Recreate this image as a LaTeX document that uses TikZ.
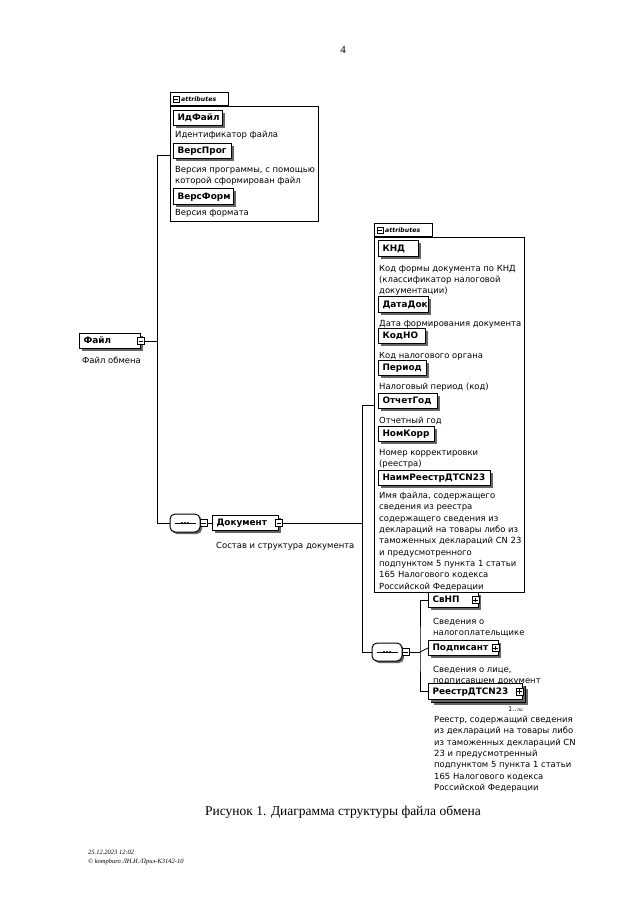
\documentclass[tikz,border=0pt]{standalone}
\usepackage{fontspec}
\setmainfont{Liberation Serif}
\setsansfont{DejaVu Sans}
\usetikzlibrary{shadows}
\newcommand{\dfont}{\sffamily\fontsize{8.45}{11.3}\selectfont}
\newcommand{\efont}{\sffamily\bfseries\fontsize{8.9}{10}\selectfont}
\begin{document}
\begin{tikzpicture}[x=1pt,y=-1pt,
  el/.style={draw, line width=1pt, fill=white, inner xsep=4pt, inner ysep=3.5pt,
    text height=6.6pt, text depth=1.6pt, anchor=west, align=left, font=\efont,
    drop shadow={shadow xshift=2.5pt, shadow yshift=-2.5pt, fill=black!60, opacity=1}},
  desc/.style={anchor=north west, inner sep=0pt, align=left, font=\dfont},
  sym/.style={draw, line width=0.6pt, fill=white, minimum size=7pt, inner sep=0pt},
  symm/.style={sym, path picture={\draw[line width=0.6pt] ([xshift=1.3pt]path picture bounding box.west) -- ([xshift=-1.3pt]path picture bounding box.east);}},
  symp/.style={sym, path picture={\draw[line width=0.6pt] ([xshift=1.3pt]path picture bounding box.west) -- ([xshift=-1.3pt]path picture bounding box.east);
     \draw[line width=0.6pt] ([yshift=-1.3pt]path picture bounding box.north) -- ([yshift=1.3pt]path picture bounding box.south);}},
  abox/.style={draw, line width=0.8pt, fill=white, anchor=north west, inner sep=0pt},
  tab/.style={draw, line width=0.8pt, fill=white, anchor=south west, inner sep=0pt, minimum height=13pt},
  tabtext/.style={anchor=west, inner sep=0pt, font=\sffamily\bfseries\itshape\fontsize{6.2}{7}\selectfont},
  seqb/.style={draw, line width=1pt, fill=white, rounded corners=5pt, minimum width=30pt, minimum height=18pt, inner sep=0pt,
    drop shadow={shadow xshift=2pt, shadow yshift=-2pt, fill=black!60, opacity=1}},
  conn/.style={line width=0.8pt}
]
\useasboundingbox (0,0) rectangle (640,905);
\fill[white] (0,0) rectangle (640,905);

% page number
\node[font=\fontsize{11}{13}\selectfont] (pnum) at (343,50) {4};

% ---------- attributes box 1 ----------
\node[abox, minimum width=148pt, minimum height=115pt] (attr1) at (170,106) {};
\node[tab, minimum width=58pt] (tab1) at (170,106) {};
\node[symm, minimum size=6pt] (tab1s) at (176,99.5) {};
\node[tabtext] (tab1t) at (181,99.5) {attributes};

\node[el, text width=41pt] (idf) at (173,118) {ИдФайл};
\node[desc] (idfd) at (175,131) {Идентификатор файла};
\node[el, text width=50pt] (vprog) at (173,151) {ВерсПрог};
\node[desc] (vprogd) at (175,166) {Версия программы, с помощью\\которой сформирован файл};
\node[el, text width=52pt] (vform) at (173,196.5) {ВерсФорм};
\node[desc] (vformd) at (175,209) {Версия формата};

% ---------- root element ----------
\node[el, text width=53pt] (fajl) at (79,341) {Файл};
\node[symm] (fajls) at (fajl.east) {};
\node[desc] (fajld) at (82,357) {Файл обмена};

% connectors of root
\coordinate (v1) at (157,155);
\node[seqb] (seq1) at (185,523) {};
\node[symm] (seq1s) at ([xshift=3pt]seq1.east) {};
\draw[line width=0.8pt] ([xshift=5pt]seq1.west) -- ([xshift=-5pt]seq1.east);
\foreach \d in {-3,0,3} \fill ([xshift=\d pt]seq1.center) circle (1.1pt);
\draw[conn] (attr1.west |- v1) -- (v1) -- (v1 |- seq1.west) -- (seq1.west);
\draw[conn] (fajls.east) -- (fajls.east -| v1);

% ---------- Документ ----------
\node[el, text width=58pt] (doc) at (212,523) {Документ};
\node[symm] (docs) at (doc.east) {};
\node[desc] (docd) at (216,542) {Состав и структура документа};
\draw[conn] (seq1s.east) -- (doc.west);

% ---------- attributes box 2 ----------
\node[abox, minimum width=150pt, minimum height=355pt] (attr2) at (374,237) {};
\node[tab, minimum width=58pt] (tab2) at (374,237) {};
\node[symm, minimum size=6pt] (tab2s) at (380,230.5) {};
\node[tabtext] (tab2t) at (385,230.5) {attributes};

\node[el, text width=32pt] (knd) at (378,248.5) {КНД};
\node[desc] (kndd) at (379,265) {Код формы документа по КНД\\(классификатор налоговой\\документации)};
\node[el, text width=42pt] (datadok) at (378,304.5) {ДатаДок};
\node[desc] (datadokd) at (379,320) {Дата формирования документа};
\node[el, text width=39pt] (kodno) at (378,336) {КодНО};
\node[desc] (kodnod) at (379,352) {Код налогового органа};
\node[el, text width=40pt] (period) at (378,368) {Период};
\node[desc] (periodd) at (379,383) {Налоговый период (код)};
\node[el, text width=51pt] (otchgod) at (378,401) {ОтчетГод};
\node[desc] (otchgodd) at (379,417) {Отчетный год};
\node[el, text width=48pt] (nomkorr) at (378,434) {НомКорр};
\node[desc] (nomkorrd) at (379,449) {Номер корректировки\\(реестра)};
\node[el, text width=104pt] (naim) at (378,478) {НаимРеестрДТСN23};
\node[desc] (naimd) at (379,492) {Имя файла, содержащего\\сведения из реестра\\содержащего сведения из\\деклараций на товары либо из\\таможенных деклараций CN 23\\и предусмотренного\\подпунктом 5 пункта 1 статьи\\165 Налогового кодекса\\Российской Федерации};

% ---------- sequence 2 ----------
\node[seqb] (seq2) at (387,652) {};
\node[symm] (seq2s) at ([xshift=3pt]seq2.east) {};
\draw[line width=0.8pt] ([xshift=5pt]seq2.west) -- ([xshift=-5pt]seq2.east);
\foreach \d in {-3,0,3} \fill ([xshift=\d pt]seq2.center) circle (1.1pt);

\coordinate (v2) at (362,405);
\draw[conn] (docs.east) -- (docs.east -| v2);
\draw[conn] (attr2.west |- v2) -- (v2) -- (v2 |- seq2.west) -- (seq2.west);

% ---------- children of sequence 2 ----------
\node[el, text width=42pt] (svnp) at (428,600) {СвНП};
\node[symp] (svnps) at ([xshift=-3.5pt]svnp.east) {};
\node[desc] (svnpd) at (433,618) {Сведения о\\налогоплательщике};
\node[el, text width=62pt] (podp) at (428,648) {Подписант};
\node[symp] (podps) at ([xshift=-3.5pt]podp.east) {};
\node[desc] (podpd) at (433,666) {Сведения о лице,\\подписавшем документ};
% multiple occurrence: stacked box behind
\node[el, text width=86pt] (reestrb) at (431,694.5) {\phantom{РеестрДТСN23}};
\node[el, text width=86pt, drop shadow={opacity=0}] (reestr) at (428,691.5) {РеестрДТСN23};
\node[symp] (reestrs) at ([xshift=-3.5pt]reestr.east) {};
\node[anchor=west, inner sep=0pt, font=\sffamily\fontsize{6.5}{7}\selectfont] (occ) at (508,709) {1..$\infty$};
\node[desc] (reestrd) at (434,716) {Реестр, содержащий сведения\\из деклараций на товары либо\\из таможенных деклараций CN\\23 и предусмотренный\\подпунктом 5 пункта 1 статьи\\165 Налогового кодекса\\Российской Федерации};

\coordinate (v3) at (420,652);
\draw[conn] (seq2s.east) -- (v3);
\draw[conn] (svnp.west) -| (v3) |- (reestr.west);
\draw[conn] (v3) -- (podp.west);

% ---------- caption and footer ----------
\node[font=\fontsize{13.5}{16}\selectfont] (cap) at (343,812) {Рисунок 1. Диаграмма структуры файла обмена};
\node[anchor=north west, inner sep=0pt, align=left, font=\itshape\fontsize{6.5}{9}\selectfont] (foot) at (88,850) {25.12.2023 12:02\\© kompburo ЛН.И./Прил-К3142-10};
\end{tikzpicture}
\end{document}
